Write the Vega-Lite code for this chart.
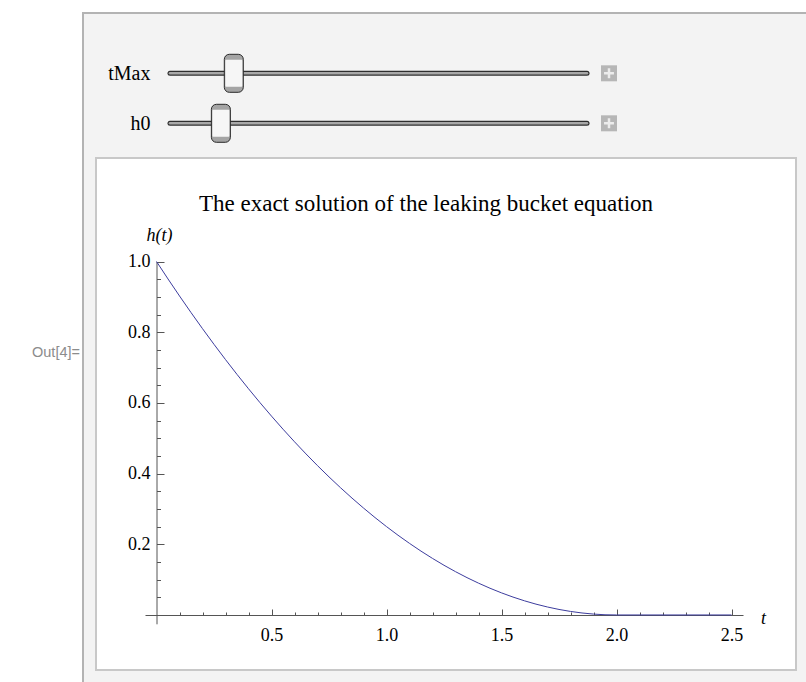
{
  "$schema": "https://vega.github.io/schema/vega-lite/v6.json",
  "background": "#f3f3f3",
  "padding": 0,
  "spacing": 0,
  "bounds": "flush",
  "config": {
    "view": {"stroke": null},
    "concat": {"spacing": 0},
    "font": "Liberation Serif",
    "axis": {"labelFont": "Liberation Serif", "titleFont": "Liberation Serif", "grid": false}
  },
  "vconcat": [
    {
      "width": 806,
      "height": 12,
      "view": {"fill": "white", "stroke": null},
      "data": {"values": [{}]},
      "mark": {"type": "text"},
      "encoding": {"text": {"value": ""}}
    },
    {
      "spacing": 0,
      "bounds": "flush",
      "hconcat": [
        {
          "width": 82,
          "height": 670,
          "view": {"fill": "white", "stroke": null},
          "data": {"values": [{"label": "Out[4]="}]},
          "mark": {"type": "text", "font": "Liberation Sans", "fontSize": 14.5, "color": "#8c8c8c", "align": "right", "baseline": "middle", "dx": 39, "dy": 6},
          "encoding": {"text": {"field": "label", "type": "nominal"}}
        },
        {
          "width": 2,
          "height": 670,
          "view": {"fill": "#b3b3b3", "stroke": null},
          "data": {"values": [{}]},
          "mark": {"type": "text"},
          "encoding": {"text": {"value": ""}}
        },
        {
          "spacing": 0,
          "bounds": "flush",
          "vconcat": [
            {
              "width": 722,
              "height": 2,
              "view": {"fill": "#b3b3b3", "stroke": null},
              "data": {"values": [{}]},
              "mark": {"type": "text"},
              "encoding": {"text": {"value": ""}}
            },
            {
              "width": 722,
              "height": 144,
              "view": {"stroke": null},
              "data": {"values": [
                {"control": "tMax", "min": 0, "max": 1, "value": 0.153},
                {"control": "h0", "min": 0, "max": 1, "value": 0.122}
              ]},
              "encoding": {
                "y": {
                  "field": "control", "type": "nominal",
                  "scale": {"type": "point", "domain": ["tMax", "h0"], "range": [59.3, 109.3], "padding": 0},
                  "axis": {"orient": "left", "offset": -66, "domain": false, "ticks": false, "labelPadding": 0, "labelFontSize": 20, "labelColor": "black", "labelAlign": "right", "title": null}
                }
              },
              "layer": [
                {
                  "mark": {"type": "rule", "stroke": "#2e2e2e", "strokeWidth": 5, "strokeCap": "round"},
                  "encoding": {
                    "x": {"field": "min", "type": "quantitative", "scale": {"domain": [0, 1], "range": [86, 503]}, "axis": null},
                    "x2": {"field": "max"}
                  }
                },
                {
                  "mark": {"type": "rule", "stroke": "#a8a8a8", "strokeWidth": 2.6, "strokeCap": "round"},
                  "encoding": {
                    "x": {"field": "min", "type": "quantitative", "scale": {"domain": [0, 1], "range": [86, 503]}, "axis": null},
                    "x2": {"field": "max"}
                  }
                },
                {
                  "mark": {"type": "tick", "size": 38, "thickness": 19, "cornerRadius": 5, "fill": "#a4a4a4", "stroke": "#2a2a2a", "strokeWidth": 1, "opacity": 1},
                  "encoding": {"x": {"field": "value", "type": "quantitative", "scale": {"domain": [0, 1], "range": [86, 503]}, "axis": null}}
                },
                {
                  "mark": {"type": "tick", "size": 27, "thickness": 17, "cornerRadius": 1, "fill": "#f6f6f6", "opacity": 1},
                  "encoding": {"x": {"field": "value", "type": "quantitative", "scale": {"domain": [0, 1], "range": [86, 503]}, "axis": null}}
                },
                {
                  "mark": {"type": "point", "shape": "square", "size": 256, "filled": true, "fill": "#b6b6b6", "opacity": 1},
                  "encoding": {
                    "x": {"field": "max", "type": "quantitative", "scale": {"domain": [0, 1], "range": [86, 503]}, "axis": null},
                    "xOffset": {"value": 22}
                  }
                },
                {
                  "mark": {"type": "point", "shape": "M-0.62,0H0.62M0,-0.62V0.62", "size": 256, "filled": false, "stroke": "#ececec", "strokeWidth": 2.5, "opacity": 1},
                  "encoding": {
                    "x": {"field": "max", "type": "quantitative", "scale": {"domain": [0, 1], "range": [86, 503]}, "axis": null},
                    "xOffset": {"value": 22}
                  }
                }
              ]
            },
            {
              "spacing": 0,
              "bounds": "flush",
              "hconcat": [
                {
                  "width": 12,
                  "height": 512,
                  "view": {"stroke": null},
                  "data": {"values": [{}]},
                  "mark": {"type": "text"},
                  "encoding": {"text": {"value": ""}}
                },
                {
                  "width": 700,
                  "height": 512,
                  "view": {"fill": "white", "stroke": "#c8c8c8", "strokeWidth": 2},
                  "title": {
                    "text": "The exact solution of the leaking bucket equation",
                    "font": "Liberation Serif", "fontSize": 23, "fontWeight": "normal", "color": "black",
                    "anchor": "middle", "frame": "group", "offset": -58, "dx": -20
                  },
                  "data": {"values": [
                    {"t": 0, "h": 1}, {"t": 0.05, "h": 0.9506}, {"t": 0.1, "h": 0.9025}, {"t": 0.15, "h": 0.8556},
                    {"t": 0.2, "h": 0.81}, {"t": 0.25, "h": 0.7656}, {"t": 0.3, "h": 0.7225}, {"t": 0.35, "h": 0.6806},
                    {"t": 0.4, "h": 0.64}, {"t": 0.45, "h": 0.6006}, {"t": 0.5, "h": 0.5625}, {"t": 0.55, "h": 0.5256},
                    {"t": 0.6, "h": 0.49}, {"t": 0.65, "h": 0.4556}, {"t": 0.7, "h": 0.4225}, {"t": 0.75, "h": 0.3906},
                    {"t": 0.8, "h": 0.36}, {"t": 0.85, "h": 0.3306}, {"t": 0.9, "h": 0.3025}, {"t": 0.95, "h": 0.2756},
                    {"t": 1.0, "h": 0.25}, {"t": 1.05, "h": 0.2256}, {"t": 1.1, "h": 0.2025}, {"t": 1.15, "h": 0.1806},
                    {"t": 1.2, "h": 0.16}, {"t": 1.25, "h": 0.1406}, {"t": 1.3, "h": 0.1225}, {"t": 1.35, "h": 0.1056},
                    {"t": 1.4, "h": 0.09}, {"t": 1.45, "h": 0.0756}, {"t": 1.5, "h": 0.0625}, {"t": 1.55, "h": 0.0506},
                    {"t": 1.6, "h": 0.04}, {"t": 1.65, "h": 0.0306}, {"t": 1.7, "h": 0.0225}, {"t": 1.75, "h": 0.0156},
                    {"t": 1.8, "h": 0.01}, {"t": 1.85, "h": 0.0056}, {"t": 1.9, "h": 0.0025}, {"t": 1.95, "h": 0.0006},
                    {"t": 2.0, "h": 0}, {"t": 2.25, "h": 0}, {"t": 2.5, "h": 0}
                  ]},
                  "layer": [
                    {
                      "mark": {"type": "line", "color": "#3d3d9e", "strokeWidth": 1},
                      "encoding": {
                        "x": {
                          "field": "t", "type": "quantitative",
                          "scale": {"domain": [-0.05, 2.55], "range": [49, 647], "nice": false, "zero": false},
                          "axis": {
                            "orient": "bottom", "offset": -55, "values": [0.5, 1, 1.5, 2, 2.5], "format": ".1f",
                            "domainColor": "#555555", "domainWidth": 1, "tickColor": "#555555", "tickWidth": 1, "tickSize": -6,
                            "labelPadding": 17, "labelFontSize": 18, "labelColor": "black", "labelFlush": false, "labelOverlap": false,
                            "title": "t", "titleFontStyle": "italic", "titleFontWeight": "normal", "titleFontSize": 18, "titleColor": "black",
                            "titleAngle": 0, "titleX": 667, "titleY": 3, "titleAlign": "center", "titleBaseline": "middle"
                          }
                        },
                        "y": {
                          "field": "h", "type": "quantitative",
                          "scale": {"domain": [-0.025, 1], "range": [465.8, 103.5], "nice": false, "zero": false},
                          "axis": {
                            "orient": "left", "offset": -60.5, "values": [0.2, 0.4, 0.6, 0.8, 1.0], "format": ".1f",
                            "domainColor": "#555555", "domainWidth": 1, "tickColor": "#555555", "tickWidth": 1, "tickSize": -7.5,
                            "labelPadding": 14, "labelFontSize": 18, "labelColor": "black", "labelFlush": false, "labelOverlap": false,
                            "title": "h(t)", "titleFontStyle": "italic", "titleFontWeight": "normal", "titleFontSize": 18, "titleColor": "black",
                            "titleAngle": 0, "titleX": 2.5, "titleY": 77.5, "titleAlign": "center", "titleBaseline": "middle"
                          }
                        }
                      }
                    },
                    {
                      "mark": {"type": "line", "strokeOpacity": 0},
                      "encoding": {
                        "x": {
                          "field": "t", "type": "quantitative",
                          "scale": {"domain": [-0.05, 2.55], "range": [49, 647], "nice": false, "zero": false},
                          "axis": {
                            "orient": "bottom", "offset": -55,
                            "values": [0.1, 0.2, 0.3, 0.4, 0.6, 0.7, 0.8, 0.9, 1.1, 1.2, 1.3, 1.4, 1.6, 1.7, 1.8, 1.9, 2.1, 2.2, 2.3, 2.4],
                            "domain": false, "labels": false, "tickColor": "#555555", "tickWidth": 1, "tickSize": -3, "title": null
                          }
                        },
                        "y": {
                          "field": "h", "type": "quantitative",
                          "scale": {"domain": [-0.025, 1], "range": [465.8, 103.5], "nice": false, "zero": false},
                          "axis": {
                            "orient": "left", "offset": -60.5,
                            "values": [0.05, 0.1, 0.15, 0.25, 0.3, 0.35, 0.45, 0.5, 0.55, 0.65, 0.7, 0.75, 0.85, 0.9, 0.95],
                            "domain": false, "labels": false, "tickColor": "#555555", "tickWidth": 1, "tickSize": -4, "title": null
                          }
                        }
                      }
                    }
                  ],
                  "resolve": {"axis": {"x": "independent", "y": "independent"}}
                }
              ]
            }
          ]
        }
      ]
    }
  ]
}
